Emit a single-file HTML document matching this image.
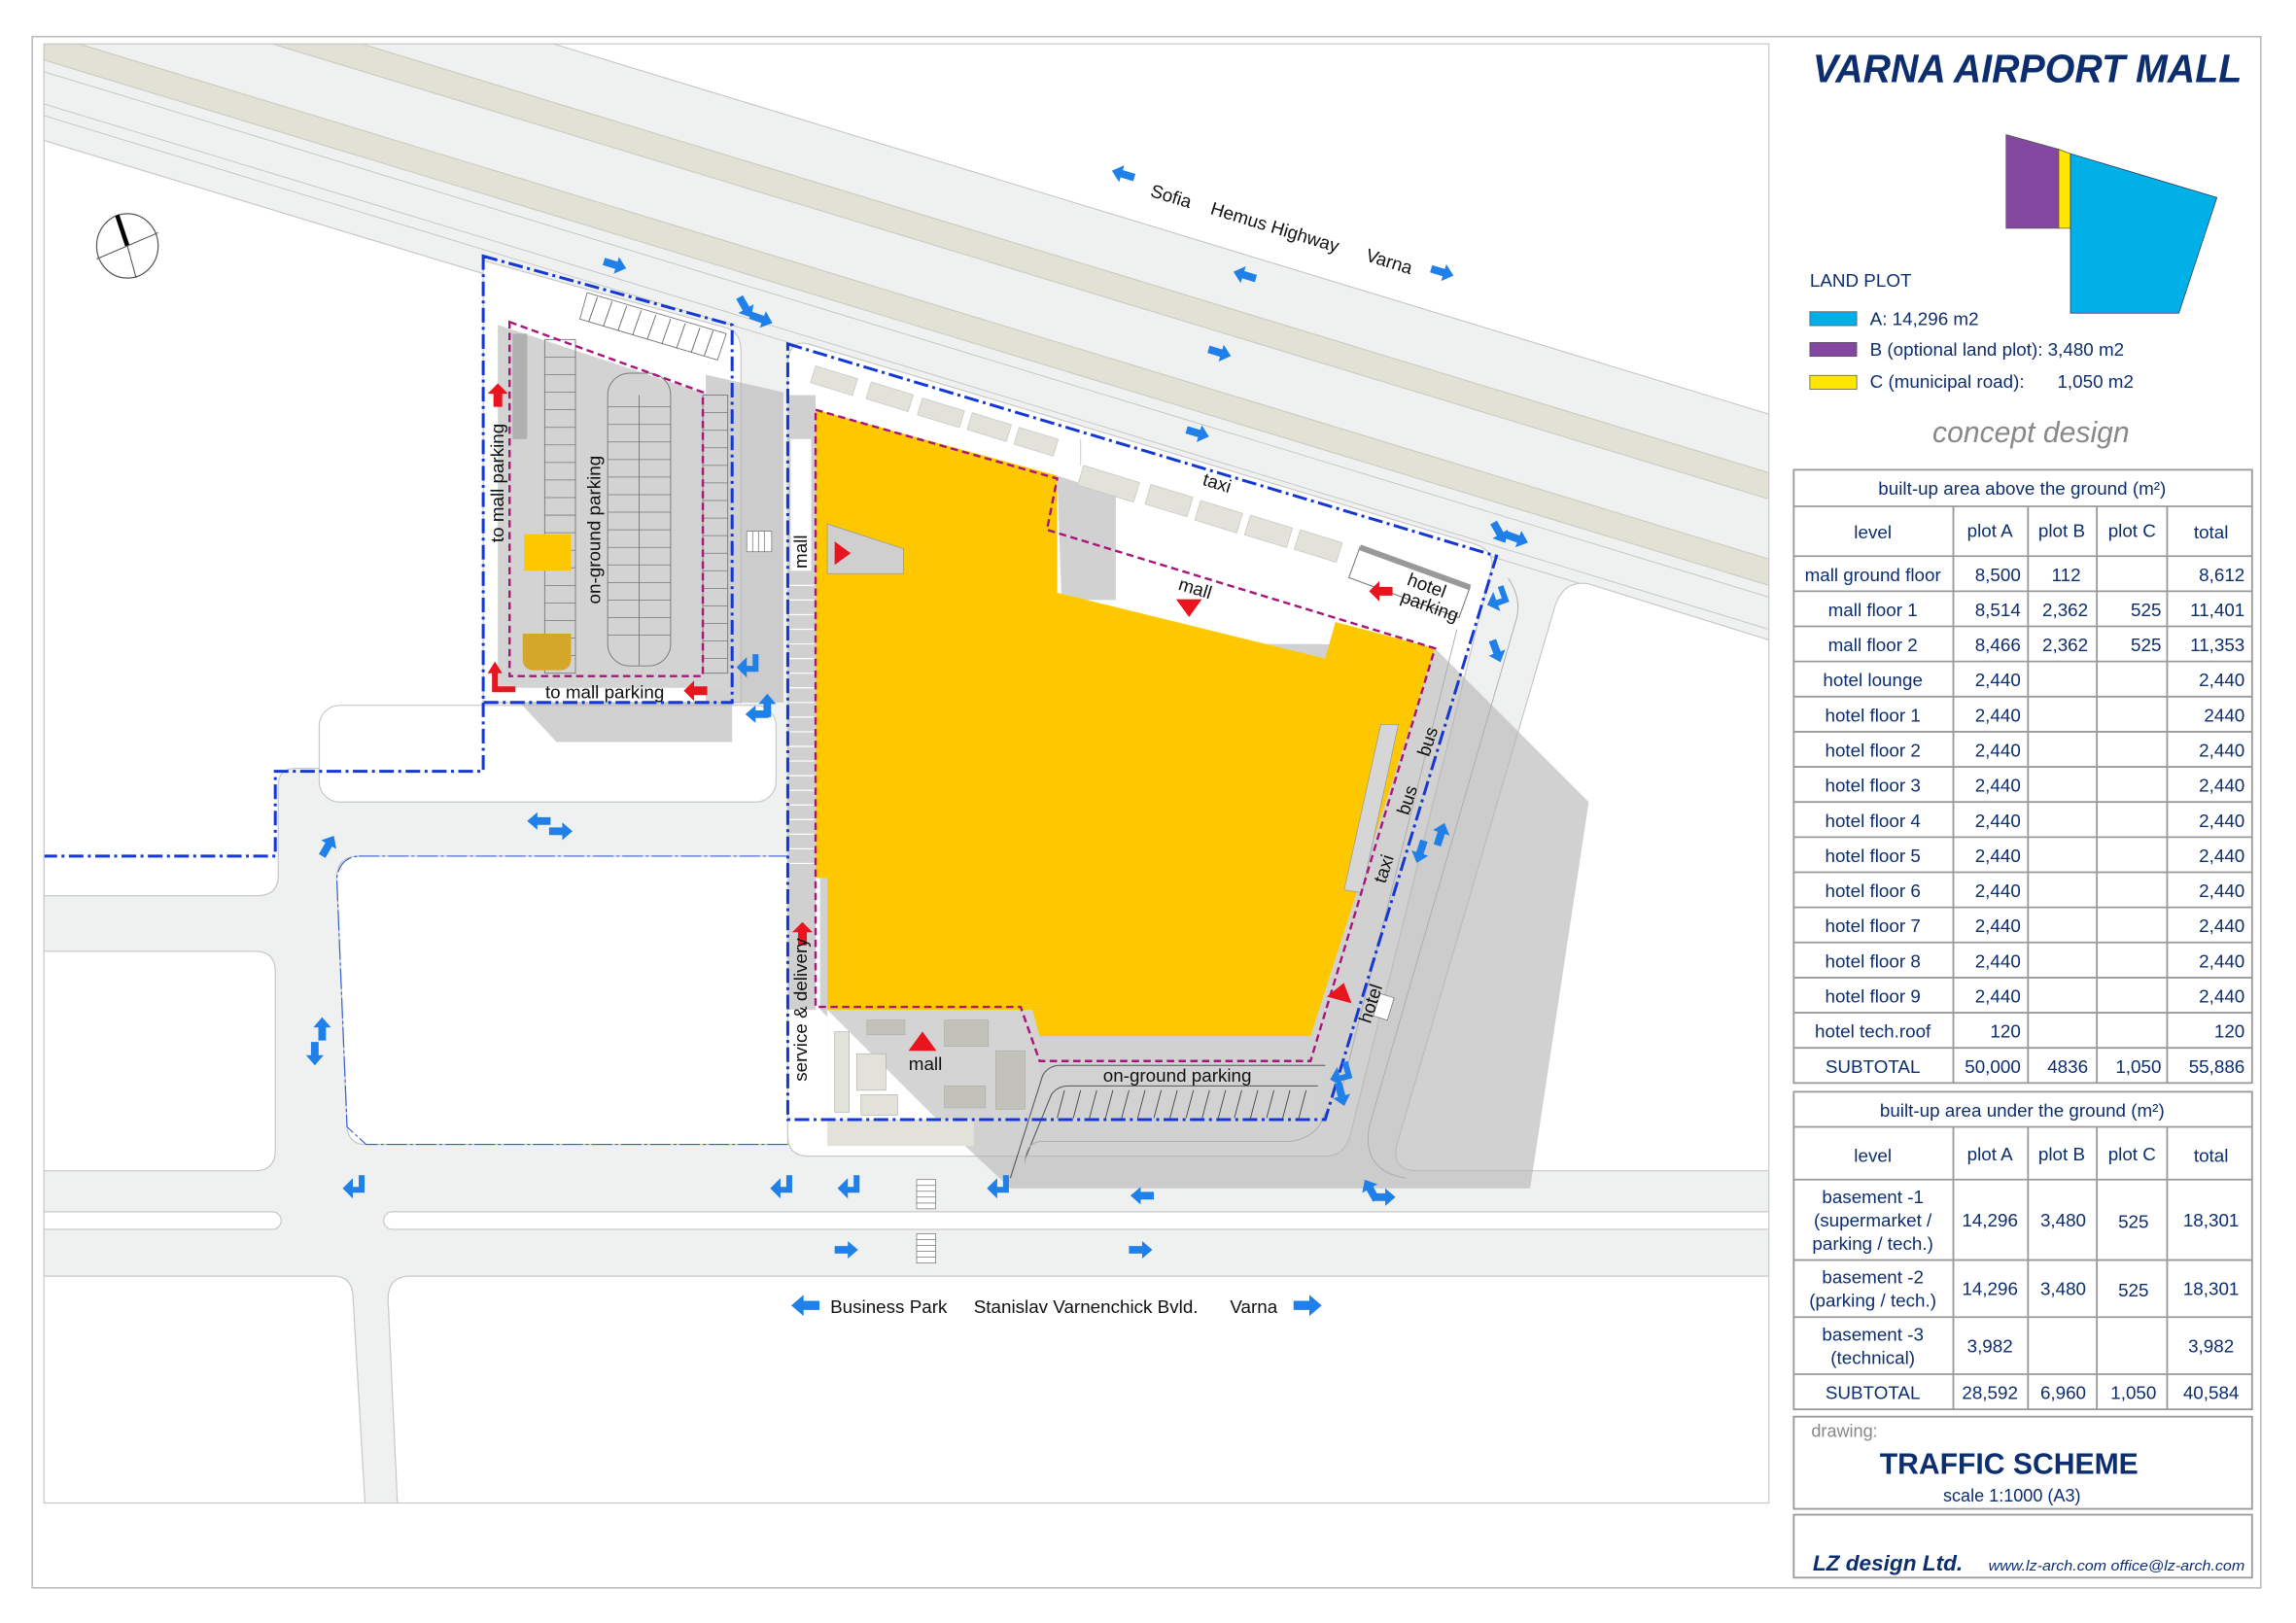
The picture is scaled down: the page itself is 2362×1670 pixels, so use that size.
<!DOCTYPE html>
<html><head><meta charset="utf-8"><style>
html,body{margin:0;padding:0;background:#fff}
svg{display:block}
text{font-family:"Liberation Sans",Arial,sans-serif}
</style></head><body>
<svg width="2362" height="1670" viewBox="0 0 1568 1109" preserveAspectRatio="none" xmlns="http://www.w3.org/2000/svg">
<defs>
<clipPath id="mc"><rect x="30" y="30" width="1178" height="997"/></clipPath>
<path id="ar" d="M-8,-2.6 L1,-2.6 L1,-6 L8,0 L1,6 L1,2.6 L-8,2.6 Z" fill="#1e80e8"/>
<path id="tl" d="M5,-9 L5,3 L-3,3 L-3,7 L-10,0 L-3,-7 L-3,-1 L1,-1 L1,-9 Z" fill="#1e80e8"/>
<path id="ra" d="M-8,-3 L1,-3 L1,-7 L8,0 L1,7 L1,3 L-8,3 Z" fill="#e8141e"/>
<path id="rt" d="M-8,5 L0,-6 L8,5 Z" fill="#e8141e"/>
</defs>
<rect x="0" y="0" width="1568" height="1109" fill="#fff"/>
<rect x="22" y="25" width="1522" height="1060" fill="none" stroke="#b8b8b8" stroke-width="1"/>

<g clip-path="url(#mc)">
<rect x="30" y="30" width="1178" height="997" fill="#eff1f0"/>
<polygon points="378,30 1208,30 1208,283" fill="#fff"/>
<line x1="378" y1="30" x2="1208" y2="283" stroke="#c4c4c4" stroke-width="0.7"/>
<polygon points="186,30 247,30 1208,323 1208,341" fill="#e1e1d5" stroke="#c6c6ba" stroke-width="0.6"/>
<polygon points="30,30 54,30 1208,382 1208,400 30,41" fill="#e1e1d5" stroke="#c6c6ba" stroke-width="0.6"/>
<line x1="30" y1="49" x2="1208" y2="408" stroke="#c4c4c4" stroke-width="0.6"/>
<line x1="30" y1="71" x2="1208" y2="430" stroke="#c4c4c4" stroke-width="0.6"/>
<line x1="30" y1="79" x2="1208" y2="438" stroke="#c4c4c4" stroke-width="0.6"/>

<g fill="#fff" stroke="#c8c8c8" stroke-width="0.8">
<path d="M30,96 L330,187 L330,525 L202,525 Q190,525 190,537 L190,598 Q190,612 176,612 L30,612 Z"/>
<rect x="218" y="482" width="312" height="66" rx="14"/>
<path d="M20,650 L174,650 Q188,650 188,664 L188,786 Q188,800 174,800 L20,800 Z"/>
<path d="M245,585 L538,585 L538,782 L250,782 Q238,782 237,770 L230,600 Q230,585 245,585 Z"/>
<rect x="20" y="828" width="172" height="12" rx="6"/>
<rect x="262" y="828" width="960" height="12" rx="6"/>
<path d="M20,872 L228,872 Q240,872 241,885 L250,1040 L20,1040 Z"/>
<path d="M280,872 L1220,872 L1220,1040 L272,1040 L265,888 Q265,872 280,872 Z"/>
<path d="M330,178 L496,224 Q506,227 506,240 L506,480 L330,480 Z"/>
<path d="M538,246 Q540,232 552,235 L1008,372 Q1022,377 1018,391 L922,776 Q918,790 905,790 L552,790 Q538,790 538,776 Z"/>
<path d="M1085,399 L1220,441 L1220,800 L968,800 Q950,800 954,782 L1062,414 Q1068,396 1085,399 Z"/>
</g>

<g fill="#b4b4b4" fill-opacity="0.62">
<polygon points="980,443 1085,548 1045,812 690,812 560,690 560,440 900,440"/>
<polygon points="355,480 500,480 500,507 380,507"/>
<polygon points="482,256 535,268 535,480 482,480"/>
<polygon points="722,325 762,338 762,410 725,410"/>
</g>

<polygon points="340,222 485,270 497,270 497,470 340,470" fill="#d3d3d3"/>
<polygon points="401,200 496,228 490,246 396,218" fill="#fff" stroke="#777" stroke-width="0.6"/>
<g stroke="#666" stroke-width="0.6">
<line x1="408" y1="203" x2="402" y2="220"/><line x1="418" y1="206" x2="412" y2="223"/><line x1="428" y1="209" x2="422" y2="226"/><line x1="438" y1="212" x2="432" y2="229"/><line x1="448" y1="215" x2="442" y2="232"/><line x1="458" y1="218" x2="452" y2="235"/><line x1="468" y1="221" x2="462" y2="238"/><line x1="478" y1="224" x2="472" y2="241"/><line x1="487" y1="226" x2="481" y2="243"/>
</g>
<rect x="350" y="228" width="10" height="72" fill="#b0b0b0"/>
<g fill="none" stroke="#777" stroke-width="0.6">
<rect x="372" y="232" width="21" height="228"/>
<rect x="415" y="255" width="43" height="200" rx="15"/>
<line x1="436.5" y1="270" x2="436.5" y2="455"/>
<rect x="480" y="270" width="17" height="190"/>
</g>
<g stroke="#777" stroke-width="0.5">
<path d="M372,244H393M372,256H393M372,268H393M372,280H393M372,292H393M372,304H393M372,316H393M372,328H393M372,340H393M372,352H393M372,364H393M372,376H393M372,388H393M372,400H393M372,412H393M372,424H393M372,436H393M372,448H393"/>
<path d="M415,278H458M415,290H458M415,302H458M415,314H458M415,326H458M415,338H458M415,350H458M415,362H458M415,374H458M415,386H458M415,398H458M415,410H458M415,422H458M415,434H458"/>
<path d="M480,282H497M480,294H497M480,306H497M480,318H497M480,330H497M480,342H497M480,354H497M480,366H497M480,378H497M480,390H497M480,402H497M480,414H497M480,426H497M480,438H497M480,450H497"/>
</g>
<rect x="358" y="365" width="32" height="25" fill="#fdc800"/>
<path d="M357,433 H390 V450 Q390,458 382,458 H365 Q357,458 357,450 Z" fill="#d4a62a"/>

<rect x="538" y="270" width="19" height="420" fill="#d0d0d0"/>
<g stroke="#fff" stroke-width="0.8"><path d="M539,400H556M539,410H556M539,420H556M539,430H556M539,440H556M539,450H556M539,460H556M539,470H556M539,480H556M539,490H556M539,500H556M539,510H556M539,520H556M539,530H556M539,540H556M539,550H556M539,560H556M539,570H556M539,580H556M539,590H556"/></g>
<rect x="540" y="300" width="14" height="90" fill="#fff"/>
<rect x="557" y="400" width="8" height="200" fill="#fff"/>

<g fill="#e2e2da" stroke="#c8c8c0" stroke-width="0.5">
<rect x="557" y="250" width="30" height="12" transform="rotate(17 557 250)"/>
<rect x="595" y="261" width="30" height="12" transform="rotate(17 595 261)"/>
<rect x="630" y="272" width="30" height="12" transform="rotate(17 630 272)"/>
<rect x="664" y="282" width="28" height="12" transform="rotate(17 664 282)"/>
<rect x="696" y="292" width="28" height="12" transform="rotate(17 696 292)"/>
<rect x="740" y="318" width="40" height="14" transform="rotate(17 740 318)"/>
<rect x="786" y="331" width="30" height="14" transform="rotate(17 786 331)"/>
<rect x="820" y="342" width="30" height="14" transform="rotate(17 820 342)"/>
<rect x="854" y="352" width="30" height="14" transform="rotate(17 854 352)"/>
<rect x="888" y="362" width="30" height="14" transform="rotate(17 888 362)"/>
</g>
<line x1="738" y1="300" x2="738" y2="318" stroke="#c8c8c8" stroke-width="0.6"/>

<rect x="565" y="690" width="145" height="75" fill="#d4d4d4"/>
<polygon points="565,690 640,765 565,765" fill="#fff"/>
<g fill="#c2c2ba" stroke="#aaa" stroke-width="0.4">
<rect x="592" y="697" width="26" height="10"/><rect x="645" y="697" width="30" height="18"/>
<rect x="680" y="718" width="20" height="40"/><rect x="645" y="742" width="28" height="15"/>
<rect x="570" y="705" width="10" height="55" fill="#e2e2da"/><rect x="585" y="720" width="20" height="25" fill="#e2e2da"/>
<rect x="588" y="748" width="25" height="14" fill="#e2e2da"/>
</g>
<rect x="565" y="765" width="100" height="18" fill="#e2e2da"/>
<path d="M715,728 H905 L898,765 H700 Z" fill="#d2d2d2"/>
<path d="M700,792 L718,748 Q722,742 730,742 H900" fill="none" stroke="#555" stroke-width="0.7"/>
<path d="M690,805 L712,735 Q716,728 724,728 H905" fill="none" stroke="#555" stroke-width="0.7"/>
<g stroke="#444" stroke-width="0.6">
<path d="M722,764L727,745M733,764L738,745M744,764L749,745M755,764L760,745M766,764L771,745M777,764L782,745M788,764L793,745M799,764L804,745M810,764L815,745M821,764L826,745M832,764L837,745M843,764L848,745M854,764L859,745M865,764L870,745M876,764L881,745M887,764L892,745"/>
</g>
<path d="M1030,395 Q1040,410 1035,425 L935,770 Q930,800 960,805" fill="none" stroke="#aaa" stroke-width="0.6"/>
<path d="M995,430 L915,750" fill="none" stroke="#aaa" stroke-width="0.6"/>
<path d="M700,795 Q700,780 712,780 L880,780 Q900,778 905,760" fill="none" stroke="#aaa" stroke-width="0.6"/>

<path d="M557,280 L722,325 L722,405 L905,450 L912,425 L980,443 L895,708 L710,708 L705,690 L565,690 L565,600 L557,600 Z" fill="#fdc800"/>
<polygon points="565,358 617,375 617,392 565,392" fill="#cfcfcf" stroke="#999" stroke-width="0.5"/>
<polygon points="918,608 943,495 955,495 930,610" fill="#d6d6d6" stroke="#999" stroke-width="0.5"/>
<g transform="rotate(20 965 400)"><rect x="922" y="388" width="80" height="22" fill="#fff" stroke="#777" stroke-width="0.7"/><rect x="922" y="386" width="80" height="4" fill="#999"/></g>

<g fill="none" stroke="#a8157c" stroke-width="1.6" stroke-dasharray="5 3">
<path d="M557,280 L722,327 L715,362 L980,443 L895,725 L710,725 L697,688 L557,688 Z"/>
<path d="M348,220 L480,268 L480,462 L348,462 Z"/>
</g>
<g fill="none" stroke="#1538d4" stroke-width="2" stroke-dasharray="10 3 2 3">
<path d="M330,175 L500,222 L500,480 L330,480 Z"/>
<path d="M330,480 L330,527 L188,527 L188,585 L30,585"/>
<path d="M538,235 L1022,380 L905,765 L538,765 Z"/>
</g>
<path d="M245,585 L538,585 M538,782 L250,782 L237,770 L230,600 Q232,586 245,585" fill="none" stroke="#3a60d8" stroke-width="0.8" stroke-dasharray="14 2 2 2"/>

<g fill="#fff" stroke="#777" stroke-width="0.5">
<rect x="626" y="806" width="13" height="20"/><rect x="626" y="843" width="13" height="20"/>
<rect x="510" y="363" width="17" height="14"/><rect x="940" y="680" width="10" height="16" transform="rotate(17 945 688)"/>
</g>
<g stroke="#777" stroke-width="0.5">
<path d="M626,810H639M626,814H639M626,818H639M626,822H639M626,847H639M626,851H639M626,855H639M626,859H639"/>
<path d="M514,363V377M518,363V377M522,363V377"/>
</g>

<ellipse cx="87" cy="168" rx="21" ry="22" fill="#fff" stroke="#555" stroke-width="0.8"/>
<line x1="80" y1="147" x2="87" y2="168" stroke="#000" stroke-width="3"/>
<line x1="87" y1="168" x2="108" y2="159" stroke="#555" stroke-width="0.7"/>
<line x1="87" y1="168" x2="66" y2="177" stroke="#555" stroke-width="0.7"/>
<line x1="87" y1="168" x2="93" y2="190" stroke="#555" stroke-width="0.7"/>

<use href="#ar" transform="translate(767,119) rotate(197)"/>
<use href="#ar" transform="translate(985,186) rotate(17)"/>
<use href="#ar" transform="translate(850,188) rotate(197)"/>
<use href="#ar" transform="translate(833,241) rotate(17)"/>
<use href="#ar" transform="translate(818,296) rotate(17)"/>
<use href="#ar" transform="translate(420,181) rotate(17)"/>
<use href="#ar" transform="translate(780,817) rotate(180)"/>
<use href="#ar" transform="translate(578,854)"/>
<use href="#ar" transform="translate(779,854)"/>
<use href="#ar" transform="translate(550,892) rotate(180) scale(1.2)"/>
<use href="#ar" transform="translate(893,892) scale(1.2)"/>
<use href="#ar" transform="translate(368,561) rotate(180)"/>
<use href="#ar" transform="translate(383,568)"/>
<use href="#ar" transform="translate(984,570) rotate(-72)"/>
<use href="#ar" transform="translate(970,582) rotate(108)"/>
<use href="#ar" transform="translate(220,703) rotate(-90)"/>
<use href="#ar" transform="translate(215,720) rotate(90)"/>
<use href="#ar" transform="translate(224,578) rotate(-60)"/>
<use href="#ar" transform="translate(509,210) rotate(60)"/>
<use href="#ar" transform="translate(520,218) rotate(20)"/>
<use href="#ar" transform="translate(1024,364) rotate(60)"/>
<use href="#ar" transform="translate(1036,368) rotate(20)"/>
<use href="#tl" transform="translate(1025,410) rotate(-20)"/>
<use href="#ar" transform="translate(1022,445) rotate(70)"/>
<use href="#tl" transform="translate(513,456) rotate(0)"/>
<use href="#ar" transform="translate(524,482) rotate(-90)"/>
<use href="#ar" transform="translate(517,488) rotate(180)"/>
<use href="#tl" transform="translate(244,812)"/>
<use href="#tl" transform="translate(536,812)"/>
<use href="#tl" transform="translate(582,812)"/>
<use href="#tl" transform="translate(684,812)"/>
<use href="#ar" transform="translate(936,813) rotate(-120)"/>
<use href="#ar" transform="translate(945,818)"/>
<use href="#tl" transform="translate(918,735) rotate(-15)"/>
<use href="#ar" transform="translate(916,748) rotate(75)"/>

<use href="#ra" transform="translate(340,270) rotate(-90)"/>
<use href="#ra" transform="translate(548,638) rotate(-90)"/>
<use href="#ra" transform="translate(475,472) rotate(180)"/>
<use href="#ra" transform="translate(943,404) rotate(180)"/>
<path d="M336,473 V460 H333 L338,452 L343,460 H340 V469 H352 V473 Z" fill="#e8141e"/>
<use href="#rt" transform="translate(575,378) rotate(90)"/>
<use href="#rt" transform="translate(812,415) rotate(180) scale(1.1)"/>
<use href="#rt" transform="translate(630,712) scale(1.2)"/>
<use href="#rt" transform="translate(916,678) rotate(15) scale(1.1)"/>

<g font-size="12.5" fill="#111">
<text x="785" y="134" transform="rotate(17 785 134)">Sofia</text>
<text x="826" y="146" transform="rotate(17 826 146)">Hemus Highway</text>
<text x="932" y="178" transform="rotate(17 932 178)">Varna</text>
<text transform="translate(344,330) rotate(-90)" text-anchor="middle">to mall parking</text>
<text transform="translate(410,362) rotate(-90)" text-anchor="middle">on-ground parking</text>
<text x="413" y="477" text-anchor="middle">to mall parking</text>
<text transform="translate(551,377) rotate(-90)" text-anchor="middle">mall</text>
<text transform="translate(551,690) rotate(-90)" text-anchor="middle">service &amp; delivery</text>
<text x="830" y="334" text-anchor="middle" transform="rotate(17 830 334)">taxi</text>
<text x="815" y="406" text-anchor="middle" transform="rotate(17 815 406)">mall</text>
<text x="973" y="404" text-anchor="middle" transform="rotate(20 973 404)">hotel</text>
<text x="975" y="418" text-anchor="middle" transform="rotate(20 975 418)">parking</text>
<text transform="translate(979,508) rotate(-72)" text-anchor="middle">bus</text>
<text transform="translate(965,548) rotate(-72)" text-anchor="middle">bus</text>
<text transform="translate(949,595) rotate(-72)" text-anchor="middle">taxi</text>
<text transform="translate(940,687) rotate(-72)" text-anchor="middle">hotel</text>
<text x="804" y="739" text-anchor="middle">on-ground parking</text>
<text x="632" y="731" text-anchor="middle">mall</text>
<text x="567" y="897">Business Park</text>
<text x="665" y="897">Stanislav Varnenchick Bvld.</text>
<text x="840" y="897">Varna</text>
</g>
</g>
<rect x="30" y="30" width="1178" height="997" fill="none" stroke="#c8c8c8" stroke-width="0.8"/>

<text x="1238" y="56" font-size="27" font-weight="bold" font-style="italic" fill="#0d2e6e" textLength="293" lengthAdjust="spacingAndGlyphs">VARNA AIRPORT MALL</text>
<polygon points="1370,92 1406,102 1406,156 1370,156" fill="#8347a0" stroke="#555" stroke-width="0.5"/>
<polygon points="1406,102 1414,105 1414,156 1406,156" fill="#ffe600" stroke="#555" stroke-width="0.5"/>
<polygon points="1414,105 1514,135 1488,214 1414,214" fill="#00b0e6" stroke="#335" stroke-width="0.5"/>
<g font-size="12.5" fill="#0d2e6e">
<text x="1236" y="196">LAND PLOT</text>
<rect x="1236" y="213" width="32" height="9.5" fill="#00b0e6" stroke="#555" stroke-width="0.5"/>
<rect x="1236" y="234" width="32" height="9.5" fill="#8347a0" stroke="#555" stroke-width="0.5"/>
<rect x="1236" y="256.5" width="32" height="9.5" fill="#ffe600" stroke="#555" stroke-width="0.5"/>
<text x="1277" y="222">A:  14,296 m2</text>
<text x="1277" y="243">B (optional land plot): 3,480 m2</text>
<text x="1277" y="265">C (municipal road):</text>
<text x="1405" y="265">1,050 m2</text>
</g>
<text x="1387" y="302" text-anchor="middle" font-size="20" font-style="italic" fill="#888">concept design</text>

<g fill="none" stroke="#999" stroke-width="1.2">
<rect x="1225" y="321" width="313" height="419"/>
<line x1="1225" y1="346" x2="1538" y2="346"/>
<path d="M1225,380H1538M1225,404H1538M1225,428H1538M1225,452H1538M1225,476H1538M1225,500H1538M1225,524H1538M1225,548H1538M1225,572H1538M1225,596H1538M1225,620H1538M1225,644H1538M1225,668H1538M1225,692H1538M1225,716H1538"/>
<path d="M1334,346V740M1385,346V740M1432,346V740M1480,346V740"/>
<rect x="1225" y="746" width="313" height="217"/>
<path d="M1225,770H1538M1225,806H1538M1225,861H1538M1225,900H1538M1225,939H1538"/>
<path d="M1334,770V963M1385,770V963M1432,770V963M1480,770V963"/>
<rect x="1225" y="968" width="313" height="63"/>
<rect x="1225" y="1035" width="313" height="43"/>
</g>
<g font-size="12.5" fill="#0d2e6e" text-anchor="middle">
<text x="1381" y="338">built-up area above the ground (m²)</text>
<text x="1279" y="368">level</text><text x="1359" y="367">plot A</text><text x="1408" y="367">plot B</text><text x="1456" y="367">plot C</text><text x="1510" y="368">total</text>
<text x="1279" y="397">mall ground floor</text>
<text x="1279" y="421">mall floor 1</text>
<text x="1279" y="445">mall floor 2</text>
<text x="1279" y="469">hotel lounge</text>
<text x="1279" y="493">hotel floor 1</text>
<text x="1279" y="517">hotel floor 2</text>
<text x="1279" y="541">hotel floor 3</text>
<text x="1279" y="565">hotel floor 4</text>
<text x="1279" y="589">hotel floor 5</text>
<text x="1279" y="613">hotel floor 6</text>
<text x="1279" y="637">hotel floor 7</text>
<text x="1279" y="661">hotel floor 8</text>
<text x="1279" y="685">hotel floor 9</text>
<text x="1279" y="709">hotel tech.roof</text>
<text x="1279" y="733">SUBTOTAL</text>
</g>
<g font-size="12.5" fill="#0d2e6e" text-anchor="end">
<text x="1380" y="397">8,500</text><text x="1421" y="397">112</text><text x="1533" y="397">8,612</text>
<text x="1380" y="421">8,514</text><text x="1426" y="421">2,362</text><text x="1476" y="421">525</text><text x="1533" y="421">11,401</text>
<text x="1380" y="445">8,466</text><text x="1426" y="445">2,362</text><text x="1476" y="445">525</text><text x="1533" y="445">11,353</text>
<text x="1380" y="469">2,440</text><text x="1533" y="469">2,440</text>
<text x="1380" y="493">2,440</text><text x="1533" y="493">2440</text>
<text x="1380" y="517">2,440</text><text x="1533" y="517">2,440</text>
<text x="1380" y="541">2,440</text><text x="1533" y="541">2,440</text>
<text x="1380" y="565">2,440</text><text x="1533" y="565">2,440</text>
<text x="1380" y="589">2,440</text><text x="1533" y="589">2,440</text>
<text x="1380" y="613">2,440</text><text x="1533" y="613">2,440</text>
<text x="1380" y="637">2,440</text><text x="1533" y="637">2,440</text>
<text x="1380" y="661">2,440</text><text x="1533" y="661">2,440</text>
<text x="1380" y="685">2,440</text><text x="1533" y="685">2,440</text>
<text x="1380" y="709">120</text><text x="1533" y="709">120</text>
<text x="1380" y="733">50,000</text><text x="1426" y="733">4836</text><text x="1476" y="733">1,050</text><text x="1533" y="733">55,886</text>
</g>
<g font-size="12.5" fill="#0d2e6e" text-anchor="middle">
<text x="1381" y="763">built-up area under the ground (m²)</text>
<text x="1279" y="794">level</text><text x="1359" y="793">plot A</text><text x="1408" y="793">plot B</text><text x="1456" y="793">plot C</text><text x="1510" y="794">total</text>
<text x="1279" y="822">basement -1</text><text x="1279" y="838">(supermarket /</text><text x="1279" y="854">parking / tech.)</text>
<text x="1359" y="838">14,296</text><text x="1409" y="838">3,480</text><text x="1457" y="839">525</text><text x="1510" y="838">18,301</text>
<text x="1279" y="877">basement -2</text><text x="1279" y="893">(parking / tech.)</text>
<text x="1359" y="885">14,296</text><text x="1409" y="885">3,480</text><text x="1457" y="886">525</text><text x="1510" y="885">18,301</text>
<text x="1279" y="916">basement -3</text><text x="1279" y="932">(technical)</text>
<text x="1359" y="924">3,982</text><text x="1510" y="924">3,982</text>
<text x="1279" y="956">SUBTOTAL</text><text x="1359" y="956">28,592</text><text x="1409" y="956">6,960</text><text x="1457" y="956">1,050</text><text x="1510" y="956">40,584</text>
</g>
<text x="1237" y="982" font-size="12" fill="#888">drawing:</text>
<text x="1372" y="1007" font-size="20" font-weight="bold" fill="#0d2e6e" text-anchor="middle">TRAFFIC SCHEME</text>
<text x="1374" y="1026" font-size="12" fill="#0d2e6e" text-anchor="middle">scale 1:1000 (A3)</text>
<text x="1238" y="1073" font-size="15" font-weight="bold" font-style="italic" fill="#0d2e6e">LZ design Ltd.</text>
<text x="1358" y="1073" font-size="9.5" font-style="italic" fill="#0d2e6e" textLength="175" lengthAdjust="spacingAndGlyphs">www.lz-arch.com  office@lz-arch.com</text>
</svg>
</body></html>
